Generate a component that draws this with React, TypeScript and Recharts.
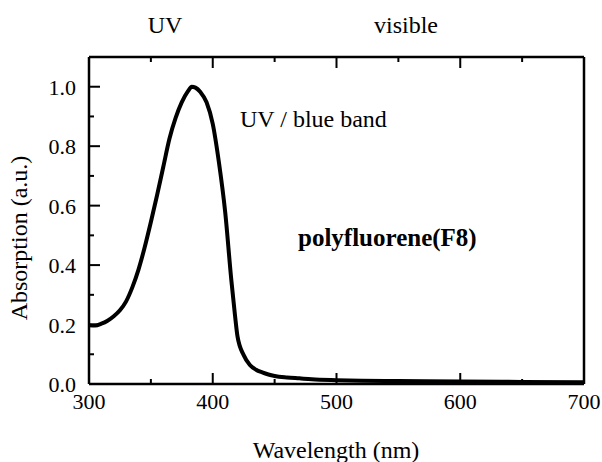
import React from 'react';
import { Line, LineChart, XAxis, YAxis } from 'recharts';

// absorption spectrum of polyfluorene (F8), normalised to the peak
const WAVELENGTHS = [
  300, 305, 310, 315, 320, 325, 330, 335, 340, 345, 350, 355, 360, 365, 370, 375, 380, 383, 386, 390,
  395, 400, 405, 410, 415, 418, 420, 425, 430, 435, 440, 445, 450, 460, 470, 480, 500, 520, 550, 600,
  650, 700,
];
const ABSORPTION = [
  0.198, 0.197, 0.203, 0.213, 0.228, 0.248, 0.278, 0.325, 0.385, 0.46, 0.545, 0.635, 0.73, 0.825, 0.895,
  0.948, 0.985, 1.0, 0.997, 0.982, 0.948, 0.875, 0.745, 0.58, 0.35, 0.23, 0.16, 0.097, 0.064, 0.048,
  0.039, 0.032, 0.027, 0.022, 0.019, 0.016, 0.013, 0.011, 0.01, 0.008, 0.007, 0.006,
];

const X_TICKS = [300, 350, 400, 450, 500, 550, 600, 650, 700];
const Y_TICKS = [0, 0.1, 0.2, 0.3, 0.4, 0.5, 0.6, 0.7, 0.8, 0.9, 1.0, 1.1];

const data = WAVELENGTHS.map((w, i) => ({ w, a: ABSORPTION[i] }));

const FONT = '"Liberation Serif", "Times New Roman", serif';
const TICK_FONT = 22;
const TEXT_FONT = 24;
const MAJOR = 11;
const MINOR = 5;

const isMajorX = (v: number) => v % 100 === 0;
const isMajorY = (v: number) => Math.round(v * 10) % 2 === 0;

const BottomTick = ({ x, y, payload }: any) => {
  const major = isMajorX(payload.value);
  return (
    <g>
      <line x1={x} x2={x} y1={y} y2={y - (major ? MAJOR : MINOR)} stroke='#000' strokeWidth={2} />
      {major && (
        <text x={x} y={y + 25} textAnchor='middle' fontFamily={FONT} fontSize={TICK_FONT} fill='#000'>
          {payload.value}
        </text>
      )}
    </g>
  );
};

const TopTick = ({ x, y, payload }: any) => {
  const major = isMajorX(payload.value);
  return <line x1={x} x2={x} y1={y} y2={y + (major ? MAJOR : MINOR)} stroke='#000' strokeWidth={2} />;
};

const LeftTick = ({ x, y, payload }: any) => {
  if (payload.value > 1.05) return null;
  const major = isMajorY(payload.value);
  return (
    <g>
      <line x1={x} x2={x + (major ? MAJOR : MINOR)} y1={y} y2={y} stroke='#000' strokeWidth={2} />
      {major && (
        <text x={x - 13} y={y + 8} textAnchor='end' fontFamily={FONT} fontSize={TICK_FONT} fill='#000'>
          {payload.value.toFixed(1)}
        </text>
      )}
    </g>
  );
};

const RightTick = ({ x, y, payload }: any) => {
  if (payload.value > 1.05) return null;
  const major = isMajorY(payload.value);
  return <line x1={x} x2={x - (major ? MAJOR : MINOR)} y1={y} y2={y} stroke='#000' strokeWidth={2} />;
};

const textStyle = { fontFamily: FONT, fontSize: TEXT_FONT, fill: '#000' };
const axisLine = { stroke: '#000', strokeWidth: 2.5 };

export default function App() {
  return (
    <div style={{ position: 'absolute', left: 0, top: 0, width: 602, height: 462, background: '#fff' }}>
      <LineChart width={602} height={462} data={data} margin={{ top: 56, right: 17, bottom: 77, left: 88 }}>
        <XAxis
          xAxisId='bottom'
          dataKey='w'
          type='number'
          domain={[300, 700]}
          ticks={X_TICKS}
          interval={0}
          height={1}
          tickSize={0}
          tickMargin={0}
          tickLine={false}
          tick={<BottomTick />}
          axisLine={axisLine}
        />
        <XAxis
          xAxisId='top'
          orientation='top'
          dataKey='w'
          type='number'
          domain={[300, 700]}
          ticks={X_TICKS}
          interval={0}
          height={1}
          tickSize={0}
          tickMargin={0}
          tickLine={false}
          tick={<TopTick />}
          axisLine={axisLine}
        />
        <YAxis
          yAxisId='left'
          type='number'
          domain={[0, 1.1]}
          ticks={Y_TICKS}
          interval={0}
          width={1}
          tickSize={0}
          tickMargin={0}
          tickLine={false}
          tick={<LeftTick />}
          axisLine={axisLine}
        />
        <YAxis
          yAxisId='right'
          orientation='right'
          type='number'
          domain={[0, 1.1]}
          ticks={Y_TICKS}
          interval={0}
          width={1}
          tickSize={0}
          tickMargin={0}
          tickLine={false}
          tick={<RightTick />}
          axisLine={axisLine}
        />
        <Line
          xAxisId='bottom'
          yAxisId='left'
          type='monotone'
          dataKey='a'
          stroke='#000'
          strokeWidth={4}
          dot={false}
          isAnimationActive={false}
        />
      </LineChart>
      <svg width={602} height={462} style={{ position: 'absolute', left: 0, top: 0, pointerEvents: 'none' }}>
        <text x={165} y={33} textAnchor='middle' {...textStyle}>UV</text>
        <text x={406} y={33} textAnchor='middle' {...textStyle}>visible</text>
        <text x={240} y={127} {...textStyle}>UV / blue band</text>
        <text x={298} y={246} {...textStyle} fontSize={25} fontWeight='bold'>polyfluorene(F8)</text>
        <text x={336} y={458} textAnchor='middle' {...textStyle}>Wavelength (nm)</text>
        <text x={27} y={238} textAnchor='middle' transform='rotate(-90, 27, 238)' {...textStyle}>
          Absorption (a.u.)
        </text>
      </svg>
    </div>
  );
}
